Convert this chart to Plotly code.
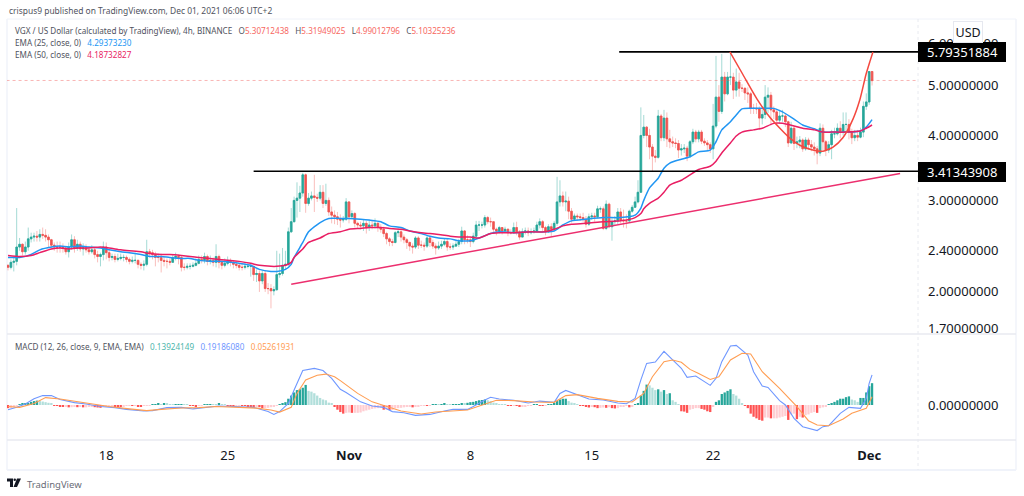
import pandas as pd
import plotly.graph_objects as go

# ---------- data ----------
first_open = 2.25
closes = [
 2.23,2.28,2.29,2.44,2.47,2.39,2.44,2.53,2.55,2.56,
 2.55,2.58,2.57,2.55,2.52,2.46,2.44,2.44,2.44,2.43,
 2.39,2.44,2.52,2.43,2.47,2.42,2.43,2.41,2.39,2.41,
 2.36,2.34,2.36,2.44,2.38,2.33,2.34,2.31,2.32,2.33,
 2.33,2.31,2.29,2.30,2.30,2.26,2.25,2.26,2.39,2.38,
 2.36,2.33,2.33,2.30,2.29,2.29,2.28,2.33,2.34,2.33,
 2.23,2.23,2.24,2.24,2.25,2.27,2.31,2.30,2.34,2.29,
 2.30,2.28,2.34,2.28,2.25,2.27,2.29,2.28,2.26,2.25,
 2.23,2.23,2.24,2.24,2.24,2.16,2.17,2.10,2.17,2.03,
 2.03,2.01,2.02,2.16,2.17,2.25,2.26,2.61,2.73,3.00,
 3.03,3.10,3.36,2.96,3.03,3.06,3.04,3.03,3.11,2.96,
 3.00,2.85,2.81,2.79,2.76,2.75,2.76,2.98,2.79,2.83,
 2.71,2.69,2.68,2.71,2.66,2.69,2.68,2.71,2.66,2.64,
 2.59,2.53,2.50,2.49,2.60,2.61,2.55,2.52,2.49,2.45,
 2.44,2.54,2.46,2.46,2.45,2.54,2.49,2.45,2.43,2.45,
 2.47,2.50,2.44,2.44,2.45,2.47,2.50,2.62,2.52,2.52,
 2.50,2.56,2.69,2.69,2.69,2.78,2.73,2.73,2.64,2.62,
 2.66,2.62,2.64,2.60,2.60,2.66,2.61,2.55,2.61,2.62,
 2.60,2.61,2.62,2.69,2.73,2.66,2.61,2.67,2.64,2.71,
 2.98,3.06,2.98,2.99,2.86,2.76,2.80,2.79,2.78,2.76,
 2.70,2.79,2.80,2.79,2.89,2.89,2.65,2.95,2.67,2.73,
 2.74,2.85,2.75,2.74,2.74,2.86,2.91,2.98,3.11,4.00,
 4.15,4.00,3.80,3.65,3.63,4.36,3.96,4.32,3.94,3.89,
 3.87,3.86,3.75,3.77,3.78,3.65,3.89,4.06,3.94,4.06,
 3.90,3.87,3.84,3.77,4.17,4.74,4.45,5.18,4.81,5.18,
 5.18,4.89,5.07,4.93,4.93,4.83,4.81,4.51,4.51,4.50,
 4.32,4.39,4.74,4.78,4.48,4.44,4.28,4.36,4.36,4.25,
 3.87,4.13,3.86,3.89,3.92,3.77,3.92,3.84,3.80,3.77,
 3.70,4.13,3.89,3.75,3.84,4.03,4.03,4.13,4.06,4.20,
 4.20,4.06,3.96,4.00,3.97,4.06,4.55,4.64,5.31,5.10,
]
highs = [
 2.26,2.31,2.33,2.90,2.54,2.48,2.50,2.66,2.60,2.60,
 2.62,2.64,2.66,2.64,2.58,2.53,2.49,2.50,2.50,2.48,
 2.45,2.49,2.58,2.56,2.52,2.50,2.48,2.47,2.45,2.46,
 2.43,2.40,2.38,2.50,2.49,2.41,2.37,2.37,2.37,2.37,
 2.36,2.35,2.33,2.34,2.38,2.31,2.28,2.30,2.52,2.42,
 2.41,2.39,2.37,2.37,2.34,2.32,2.32,2.36,2.38,2.36,
 2.35,2.27,2.27,2.27,2.28,2.32,2.35,2.35,2.38,2.36,
 2.35,2.33,2.47,2.36,2.30,2.32,2.34,2.32,2.30,2.29,
 2.27,2.27,2.28,2.27,2.27,2.24,2.21,2.20,2.20,2.20,
 2.08,2.07,2.05,2.40,2.37,2.43,2.40,2.66,2.90,3.05,
 3.25,3.20,3.39,3.38,3.10,3.12,3.36,3.09,3.21,3.21,
 3.23,3.04,2.92,2.87,2.85,2.82,2.80,3.03,2.99,2.87,
 2.85,2.73,2.73,2.75,2.74,2.75,2.74,2.77,2.73,2.70,
 2.67,2.61,2.55,2.53,2.62,2.65,2.63,2.58,2.54,2.50,
 2.48,2.56,2.56,2.51,2.49,2.57,2.56,2.52,2.48,2.50,
 2.51,2.53,2.53,2.48,2.48,2.51,2.53,2.67,2.63,2.57,
 2.55,2.60,2.74,2.74,2.73,2.81,2.80,2.78,2.73,2.66,
 2.68,2.66,2.67,2.65,2.64,2.72,2.73,2.63,2.65,2.66,
 2.66,2.65,2.66,2.73,2.77,2.75,2.68,2.70,2.71,2.74,
 3.33,3.28,3.12,3.12,3.05,2.90,2.83,2.83,2.83,2.84,
 2.80,2.83,2.84,2.84,2.93,2.92,2.92,3.00,2.97,2.78,
 2.80,2.90,2.90,2.88,2.82,2.88,2.94,3.05,3.28,4.53,
 4.38,4.17,4.12,3.85,3.75,4.48,4.40,4.48,4.43,4.10,
 3.98,3.95,3.92,3.85,3.85,3.82,3.92,4.12,4.10,4.10,
 4.10,3.95,3.92,3.88,4.60,5.69,5.00,5.74,5.30,5.30,
 5.79,5.28,5.38,5.28,5.02,4.95,4.95,4.85,4.60,4.62,
 4.55,4.55,5.00,4.95,4.85,4.55,4.50,4.48,4.48,4.40,
 4.27,4.25,4.17,3.98,3.99,3.95,3.97,3.96,3.92,3.88,
 3.82,4.22,4.20,3.92,3.90,4.10,4.14,4.22,4.26,4.43,
 4.43,4.30,4.12,4.10,4.10,4.14,4.65,4.82,5.32,5.32,
]
lows = [
 2.20,2.21,2.19,2.25,2.40,2.35,2.36,2.40,2.49,2.50,
 2.50,2.50,2.53,2.50,2.44,2.42,2.40,2.38,2.38,2.38,
 2.36,2.33,2.41,2.38,2.40,2.39,2.35,2.38,2.36,2.37,
 2.32,2.28,2.24,2.30,2.31,2.29,2.30,2.28,2.29,2.30,
 2.29,2.28,2.26,2.27,2.27,2.22,2.21,2.20,2.24,2.33,
 2.31,2.24,2.28,2.18,2.24,2.22,2.25,2.28,2.30,2.26,
 2.19,2.20,2.21,2.21,2.23,2.24,2.26,2.27,2.27,2.25,
 2.26,2.24,2.23,2.22,2.21,2.23,2.25,2.24,2.22,2.22,
 2.20,2.20,2.21,2.22,2.14,2.10,2.09,2.00,2.07,2.00,
 1.98,1.86,1.97,2.01,2.13,2.15,2.21,2.24,2.60,2.72,
 2.78,2.85,3.05,2.84,2.93,3.00,2.85,2.98,3.00,2.90,
 2.93,2.80,2.71,2.70,2.69,2.66,2.72,2.74,2.71,2.78,
 2.66,2.65,2.64,2.62,2.59,2.62,2.64,2.65,2.61,2.60,
 2.55,2.47,2.45,2.45,2.48,2.55,2.50,2.48,2.42,2.40,
 2.37,2.42,2.42,2.43,2.40,2.43,2.44,2.42,2.36,2.41,
 2.42,2.45,2.40,2.41,2.41,2.44,2.44,2.47,2.47,2.48,
 2.44,2.48,2.54,2.62,2.65,2.66,2.70,2.67,2.60,2.57,
 2.59,2.58,2.60,2.56,2.58,2.59,2.57,2.52,2.55,2.58,
 2.56,2.58,2.59,2.62,2.65,2.62,2.57,2.60,2.55,2.62,
 2.68,2.92,2.92,2.86,2.76,2.72,2.74,2.74,2.74,2.73,
 2.66,2.68,2.75,2.73,2.77,2.84,2.63,2.63,2.65,2.51,
 2.69,2.70,2.71,2.66,2.65,2.72,2.84,2.90,2.96,3.10,
 3.95,3.80,3.60,3.41,3.55,3.61,3.90,3.90,3.80,3.78,
 3.80,3.78,3.62,3.66,3.70,3.57,3.62,3.85,3.88,3.88,
 3.85,3.82,3.75,3.70,3.60,4.13,4.25,4.40,4.65,4.78,
 5.00,4.70,4.75,4.75,4.85,4.68,4.62,4.40,4.40,4.40,
 4.10,4.20,4.30,4.42,4.18,4.30,4.20,4.22,4.25,4.15,
 3.80,3.85,3.75,3.78,3.78,3.72,3.74,3.75,3.73,3.66,
 3.52,3.65,3.75,3.65,3.70,3.60,3.95,4.00,3.95,4.00,
 4.04,3.93,3.85,3.90,3.90,3.95,3.97,4.48,4.58,4.99,
]
ema_bars = [0,4,8,11,15,18,21,25,28,32,35,39,42,46,49,53,56,60,63,66,70,73,77,80,84,87,91,93,96,98,99,102,104,108,111,115,118,122,125,129,132,136,139,143,146,149,153,156,160,163,167,170,175,181,186,189,192,195,200,206,212,217,219,220,222,225,227,229,233,236,239,243,245,247,250,252,254,258,261,265,268,272,275,279,282,285,290,295,297,299]
ema25 = [2.33,2.33,2.36,2.41,2.44,2.45,2.44,2.45,2.44,2.43,2.41,2.39,2.38,2.36,2.34,2.34,2.33,2.32,2.32,2.30,2.29,2.29,2.28,2.27,2.25,2.21,2.19,2.19,2.21,2.26,2.33,2.49,2.61,2.72,2.77,2.77,2.77,2.76,2.75,2.73,2.68,2.66,2.62,2.59,2.56,2.54,2.53,2.51,2.51,2.54,2.59,2.61,2.60,2.61,2.61,2.62,2.69,2.74,2.76,2.78,2.78,2.81,2.90,3.00,3.17,3.31,3.46,3.54,3.60,3.64,3.72,3.75,3.89,4.10,4.25,4.38,4.50,4.51,4.51,4.51,4.44,4.30,4.19,4.12,4.06,4.06,4.06,4.08,4.15,4.29]
ema50 = [2.35,2.34,2.35,2.38,2.42,2.43,2.42,2.43,2.43,2.44,2.43,2.41,2.40,2.39,2.37,2.36,2.36,2.35,2.34,2.33,2.32,2.31,2.30,2.29,2.27,2.25,2.24,2.24,2.25,2.28,2.33,2.42,2.49,2.54,2.59,2.61,2.64,2.65,2.66,2.66,2.65,2.64,2.62,2.60,2.59,2.58,2.56,2.55,2.55,2.54,2.59,2.60,2.60,2.61,2.61,2.64,2.68,2.70,2.71,2.73,2.74,2.78,2.83,2.89,2.96,3.03,3.11,3.21,3.28,3.36,3.44,3.49,3.57,3.70,3.87,3.99,4.06,4.10,4.13,4.22,4.22,4.17,4.13,4.10,4.06,4.06,4.06,4.08,4.13,4.19]

macd_hist = [
 -.02,-.02,-.015,-.005,.005,.012,.012,.012,.02,.025,
 .028,.025,.022,.018,.014,.01,-.004,-.006,-.01,-.012,
 -.012,-.015,-.014,-.012,-.014,-.012,-.015,-.015,-.012,-.01,
 -.014,-.016,-.018,-.01,-.008,-.006,-.005,-.007,-.01,-.012,
 -.01,-.006,-.004,-.006,-.006,-.008,-.01,-.006,-.003,-.002,
 .002,.006,.008,.006,.008,.007,.004,.002,.003,.005,
 .006,.005,.003,-.003,-.006,-.007,-.005,-.002,.002,.006,
 .006,.004,.003,.008,.005,.002,-.002,-.003,-.005,-.004,
 -.003,-.005,-.006,-.008,-.012,-.014,-.012,-.014,-.02,-.02,
 -.018,-.014,-.008,-.003,.004,.012,.018,.04,.06,.08,
 .095,.1,.11,.128,.09,.085,.075,.06,.045,.035,
 .03,.015,.008,-.012,-.03,-.045,-.055,-.05,-.048,-.05,
 -.05,-.05,-.048,-.04,-.035,-.03,-.025,-.022,-.02,-.018,
 -.03,-.03,-.032,-.032,-.022,-.02,-.018,-.015,-.012,-.012,
 -.015,-.01,-.008,-.006,-.005,-.006,-.004,.003,.005,.004,
 .006,.007,.005,.003,.004,.004,.006,.012,.01,.014,
 .018,.02,.025,.03,.032,.035,.03,.025,.015,.008,
 .005,.003,.002,-.003,-.006,-.004,-.006,-.012,-.012,-.008,
 -.004,-.002,.002,.004,-.003,-.006,-.003,.002,.004,.01,
 .025,.035,.04,.04,.025,.015,.008,.002,-.002,-.005,
 -.01,-.016,-.012,-.014,-.02,-.018,-.016,-.018,-.014,-.02,
 -.022,-.02,-.012,-.008,-.006,-.015,-.01,.005,.01,.06,
 .09,.13,.125,.11,.095,.10,.085,.095,.07,.075,
 .03,.02,.005,-.04,-.042,-.05,-.03,-.025,-.02,-.02,
 -.025,-.03,-.04,-.045,-.01,.02,.03,.07,.08,.09,
 .1,.07,.06,.04,.01,-.003,-.02,-.055,-.075,-.085,
 -.095,-.1,-.08,-.08,-.085,-.085,-.085,-.08,-.075,-.07,
 -.095,-.06,-.055,-.09,-.075,-.08,-.065,-.06,-.05,-.045,
 -.05,-.02,-.015,-.01,.004,.012,.02,.03,.04,.04,
 .05,.055,.035,.03,.02,.045,.045,.08,.12,.139,
]
macd_bars = [0,3,6,9,12,15,18,23,27,32,37,41,47,50,55,60,64,69,73,78,85,90,92,94,97,99,102,106,109,112,115,117,122,126,130,133,137,141,146,151,154,159,161,165,167,170,175,180,184,189,191,193,197,201,206,211,214,217,219,221,224,227,230,233,235,238,243,245,247,250,252,256,258,261,263,267,269,272,275,280,282,284,288,291,295,297,298,299]
macd_line = [-.03,-.015,.006,.04,.06,.06,.035,.015,.006,-.01,-.017,-.028,-.038,-.036,-.017,-.015,-.025,-.013,-.006,-.01,-.015,-.042,-.06,-.042,.01,.095,.22,.233,.22,.17,.10,.08,.02,-.006,-.015,-.042,-.049,-.066,-.06,-.038,-.028,-.028,-.01,.032,.049,.038,.03,.013,.025,.017,.074,.093,.068,.038,.032,.013,.008,.042,.16,.265,.274,.342,.287,.234,.176,.185,.125,.17,.276,.376,.38,.318,.212,.121,.112,.028,0,-.085,-.138,-.163,-.138,-.132,-.053,-.015,-.021,.042,.138,.192]
signal_bars = [0,4,9,13,18,24,30,35,42,48,53,60,66,72,80,86,91,94,98,100,103,107,110,113,115,121,126,131,136,143,148,159,165,169,175,182,189,193,197,204,211,216,220,223,227,230,233,236,239,243,246,250,254,257,261,267,273,277,280,284,289,292,297,299]
signal_line = [-.01,-.015,.01,.047,.038,.02,.006,-.01,-.025,-.036,-.028,-.019,-.017,-.01,-.015,-.02,-.032,-.045,-.015,.074,.16,.19,.197,.18,.155,.074,.02,-.01,-.038,-.057,-.045,-.032,.006,.03,.028,.019,.017,.06,.066,.042,.023,.019,.074,.18,.276,.287,.272,.227,.2,.163,.18,.287,.33,.325,.212,.106,-.01,-.1,-.127,-.132,-.089,-.053,-.021,.053]

level_low = 3.41343908
level_high = 5.79351884
last_price = 5.10325236
trend_bars = [98, 308.7]
trend_prices = [2.07, 3.38]
arc_bars = [249.8,254.3,259.2,263.7,267.1,270.6,274,278.5,282,285.5,288.9,292.4,294.8,296.9,298.3,299.3]
arc_prices = [5.79,5.24,4.70,4.33,4.13,3.95,3.83,3.75,3.73,3.80,3.96,4.30,4.69,5.24,5.56,5.79]

price_ticks = [6.0,5.0,4.0,3.0,2.4,2.0,1.7]
macd_ticks = [0.0]
date_tick_bars = [34,76,118,160,202,244,298]
date_tick_text = ["18","25","<b>Nov</b>","8","15","22","<b>Dec</b>"]

UP="#26a69a"; DOWN="#ef5350"
# ---------- derived ----------
start = pd.Timestamp("2021-10-12 08:00")
def when(i):
    return start + pd.to_timedelta(float(i)*4, unit="h")
n = len(closes)
t = [when(i) for i in range(n)]
opens = [first_open]+closes[:-1]
body_hi = [max(o,c) for o,c in zip(opens,closes)]
body_lo = [min(o,c) for o,c in zip(opens,closes)]
hist_col=[]
for k,h in enumerate(macd_hist):
    p = macd_hist[k-1] if k else 0
    if h>=0: hist_col.append("#26a69a" if h>=p else "#b2dfdb")
    else: hist_col.append("#ff5252" if h<p else "#ffcdd2")

L,R,T,B = 7,918,19,470
W,H = R-L,B-T
def fx(px): return (px-L)/W
def fy(py): return (B-py)/H

FONT="Noto Sans"
GREY="#50535e"
fig=go.Figure()
# pale wicks, then solid bodies
fig.add_trace(go.Candlestick(x=t,open=opens,high=highs,low=lows,close=closes,whiskerwidth=0,
    increasing=dict(line=dict(color="rgba(38,166,154,0.42)",width=1),fillcolor="rgba(0,0,0,0)"),
    decreasing=dict(line=dict(color="rgba(239,83,80,0.38)",width=1),fillcolor="rgba(0,0,0,0)"),
    hoverinfo="skip",showlegend=False))
fig.add_trace(go.Candlestick(x=t,open=opens,high=body_hi,low=body_lo,close=closes,whiskerwidth=0,
    increasing=dict(line=dict(color=UP,width=0.7),fillcolor=UP),
    decreasing=dict(line=dict(color=DOWN,width=0.7),fillcolor=DOWN),
    hoverinfo="skip",showlegend=False))
def line(xs,ys,color,width,dash=None,shape="linear",xa="x",ya="y"):
    fig.add_trace(go.Scatter(x=xs,y=ys,mode="lines",xaxis=xa,yaxis=ya,showlegend=False,hoverinfo="skip",
        line=dict(color=color,width=width,dash=dash,shape=shape,smoothing=0.6 if shape=="spline" else None)))
line([t[0]-pd.Timedelta(hours=2),when(315)],[last_price,last_price],"rgba(239,83,80,0.55)",0.8,"dot")
line([when(b) for b in ema_bars],ema25,"#2196f3",1.5,shape="spline")
line([when(b) for b in ema_bars],ema50,"#e91e63",1.5,shape="spline")
line([when(85),when(315)],[level_low,level_low],"#000000",1.6)
line([when(211.5),when(315)],[level_high,level_high],"#000000",1.6)
line([when(b) for b in trend_bars],trend_prices,"#ec2f6e",1.5)
line([when(b) for b in arc_bars],arc_prices,"#f4483f",1.5,shape="spline")

fig.add_trace(go.Bar(x=t,y=macd_hist,marker=dict(color=hist_col,line=dict(width=0)),xaxis="x2",yaxis="y2",
    showlegend=False,hoverinfo="skip"))
line([when(b) for b in macd_bars],macd_line,"#6f97ff",1.1,xa="x2",ya="y2")
line([when(b) for b in signal_bars],signal_line,"#ff9d52",1.1,xa="x2",ya="y2")

def anno(px,py,text,color=GREY,size=8.15,xanchor="left",**kw):
    fig.add_annotation(xref="paper",yref="paper",x=fx(px),y=fy(py),text=text,showarrow=False,xanchor=xanchor,yanchor="middle",
        font=dict(family=FONT,size=size,color=color),**kw)
def sp(c,s): return f'<span style="color:{c}">{s}</span>'
GAP="&nbsp;&nbsp;"
GAP3=GAP+"&nbsp;"
anno(7,11,"crispus9 published on TradingView.com, Dec 01, 2021 06:06 UTC+2","#50535e",8.45)
R_="#f7685f"
anno(13,30,"VGX / US Dollar (calculated by TradingView), 4h, BINANCE"+GAP3+"O"+sp(R_,"5.30712438")+GAP3+"H"+sp(R_,"5.31949025")+GAP3+"L"+sp(R_,"4.99012796")+GAP3+"C"+sp(R_,"5.10325236"))
anno(13,42,"EMA (25, close, 0)"+GAP3+sp("#2196f3","4.29373230"))
anno(13,54,"EMA (50, close, 0)"+GAP3+sp("#e91e63","4.18732827"))
anno(13,346,"MACD (12, 26, close, 9, EMA, EMA)"+GAP3+sp("#4db6ac","0.13924149")+GAP3+sp("#6f97ff","0.19186080")+GAP3+sp("#ff9d52","0.05261931"))
anno(25,484,"TradingView","#6a6d78",9.5)
# price labels
anno(962,52,f"{level_high:.8f}","#ffffff",13,"center")
anno(962,172,f"{level_low:.8f}","#ffffff",13,"center")
anno(968,32,"USD","#131722",12.5,"center",bgcolor="#ffffff",bordercolor="#e6e8ef",borderwidth=1,borderpad=1.5)

def rect(x0,y0,x1,y1,**kw):
    return dict(type="rect",xref="paper",yref="paper",x0=fx(x0),x1=fx(x1),y0=fy(y0),y1=fy(y1),**kw)
def hl(x0,x1,y,color="#eceef3",w=1,dash=None):
    return dict(type="line",xref="paper",yref="paper",x0=fx(x0),x1=fx(x1),y0=fy(y),y1=fy(y),line=dict(color=color,width=w,dash=dash),layer="below")
def vl(x,y0,y1,color="#eceef3",w=1,dash=None):
    return dict(type="line",xref="paper",yref="paper",x0=fx(x),x1=fx(x),y0=fy(y0),y1=fy(y1),line=dict(color=color,width=w,dash=dash),layer="below")
shapes=[
 hl(7,1016,19,"#f0f3fa"),hl(7,1016,470,"#f0f3fa",2),vl(7,19,470,"#f0f3fa",1.5),vl(1016,19,470,"#f0f3fa",1.5),
 hl(7,1016,334,"#e8eaf0",1.5),hl(7,1016,440,"#e8eaf0",1.5),vl(918,19,470,"#e8eaf0",1,"dot"),
 rect(918,42,1006,62,fillcolor="#000000",line=dict(width=0),layer="above"),
 rect(918,162,1006,182,fillcolor="#000000",line=dict(width=0),layer="above"),
 # TradingView mark
 dict(type="path",xref="paper",yref="paper",layer="above",line=dict(width=0),fillcolor="#131722",
      path=f"M{fx(7)},{fy(478.5)} L{fx(13)},{fy(478.5)} L{fx(13)},{fy(487)} L{fx(10)},{fy(487)} L{fx(10)},{fy(481.5)} L{fx(7)},{fy(481.5)} Z"),
 dict(type="circle",xref="paper",yref="paper",layer="above",line=dict(width=0),fillcolor="#131722",
      x0=fx(13.5),x1=fx(16),y0=fy(478.5),y1=fy(481)),
 dict(type="path",xref="paper",yref="paper",layer="above",line=dict(width=0),fillcolor="#131722",
      path=f"M{fx(17)},{fy(478.5)} L{fx(21)},{fy(478.5)} L{fx(17)},{fy(487)} L{fx(13.5)},{fy(487)} Z"),
]

xr=[when(-0.35),when(314.9)]
date_vals=[when(b) for b in date_tick_bars]
axis_font=dict(family=FONT,size=13,color="#131722")
fig.update_layout(
    width=1024,height=496,margin=dict(l=L,r=1024-R,t=T,b=496-B,pad=0),
    paper_bgcolor="#ffffff",plot_bgcolor="#ffffff",boxmode="overlay",boxgap=0.18,bargap=0.2,barmode="overlay",
    showlegend=False,hovermode=False,shapes=shapes,
    xaxis=dict(type="date",range=xr,domain=[0,1],anchor="y",showticklabels=False,showgrid=False,zeroline=False,
               showline=False,ticks="",rangeslider=dict(visible=False)),
    yaxis=dict(type="log",range=[0.2201,0.8261],domain=[(B-334)/H,1],anchor="x",side="right",showgrid=False,zeroline=False,
               tickmode="array",tickvals=price_ticks,ticktext=[f"{v:.8f}" for v in price_ticks],ticks="",
               ticklabelstandoff=9,tickfont=axis_font,showline=False),
    xaxis2=dict(type="date",range=xr,domain=[0,1],anchor="y2",showgrid=False,zeroline=False,showline=False,
                tickmode="array",tickvals=date_vals,ticktext=date_tick_text,ticks="",tickfont=axis_font,
                ticklabelstandoff=6),
    yaxis2=dict(range=[-0.223,0.446],domain=[(B-440)/H,(B-335)/H],anchor="x2",side="right",showgrid=False,zeroline=False,
                tickmode="array",tickvals=macd_ticks,ticktext=[f"{v:.8f}" for v in macd_ticks],ticks="",
                ticklabelstandoff=9,tickfont=axis_font,showline=False),
)
fig.write_html("out.html",config=dict(displayModeBar=False),post_script="document.body.style.margin='0';document.body.style.overflow='hidden';")
